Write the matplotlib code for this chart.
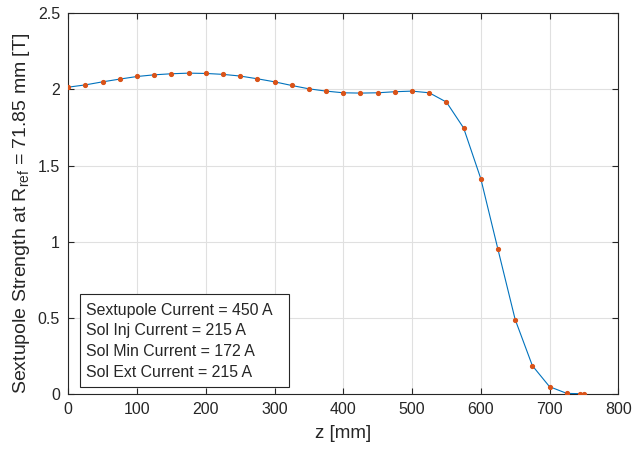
import matplotlib
matplotlib.use("Agg")
import matplotlib.pyplot as plt
from matplotlib.patches import Rectangle

plt.rcParams['font.family'] = ['Liberation Sans', 'DejaVu Sans']
plt.rcParams['mathtext.fontset'] = 'custom'
plt.rcParams['mathtext.rm'] = 'Liberation Sans'
plt.rcParams['mathtext.it'] = 'Liberation Sans:italic'

# Data
z_mm = [0, 25, 50, 75, 100, 125, 150, 175, 200, 225, 250, 275, 300, 325, 350,
        375, 400, 425, 450, 475, 500, 525, 550, 575, 600, 625, 650, 675, 700,
        725, 745, 750]
strength_T = [2.015, 2.030, 2.050, 2.068, 2.085, 2.096, 2.103, 2.107, 2.105,
              2.099, 2.088, 2.070, 2.050, 2.026, 2.004, 1.989, 1.978, 1.976,
              1.978, 1.985, 1.989, 1.978, 1.917, 1.747, 1.414, 0.949, 0.489,
              0.186, 0.048, 0.004, 0.002, 0.002]
xticks = [0, 100, 200, 300, 400, 500, 600, 700, 800]
yticks = [0, 0.5, 1, 1.5, 2, 2.5]
info_lines = ["Sextupole Current = 450 A", "Sol Inj Current = 215 A",
              "Sol Min Current = 172 A", "Sol Ext Current = 215 A"]

W, H = 633, 449
fig = plt.figure(figsize=(W / 100, H / 100), dpi=100)
L, R, T, B = 68.3, 618.3, 13.3, 394.0
ax = fig.add_axes([L / W, 1 - B / H, (R - L) / W, (B - T) / H])

ax.plot(z_mm, strength_T, color='#0072BD', lw=0.8, zorder=3)
ax.plot(z_mm, strength_T, '.', color='#D95319', ms=5.5, zorder=4)

ax.set_xlim(0, 800)
ax.set_ylim(0, 2.5)
ax.set_xticks(xticks)
ax.set_yticks(yticks)
ax.set_xticklabels([str(v) for v in xticks])
ax.set_yticklabels(['0', '0.5', '1', '1.5', '2', '2.5'])
ax.grid(True, color='#e0e0e0', lw=0.8)
ax.set_axisbelow(True)
for s in ax.spines.values():
    s.set_color('#262626')
    s.set_linewidth(0.8)
ax.tick_params(direction='in', length=4, width=0.8, color='#262626',
               top=True, right=True, labelsize=11.5, labelcolor='#262626', pad=6)

ax.set_xlabel('z [mm]', fontsize=13.5, color='#262626')
ax.xaxis.set_label_coords(0.5, -0.082)
ax.set_ylabel(r'Sextupole Strength at $\mathrm{R}_{\mathrm{ref}}$ = 71.85 mm [T]',
              fontsize=14, color='#262626')
ax.yaxis.set_label_coords(-0.066, 0.474)

x0 = (80 - L) / (R - L)
x1 = (289.3 - L) / (R - L)
y0 = (B - 386.7) / (B - T)
y1 = (B - 294.3) / (B - T)
ax.add_patch(Rectangle((x0, y0), x1 - x0, y1 - y0, transform=ax.transAxes,
                       facecolor='white', edgecolor='#262626', lw=0.8, zorder=5))
tx = (86 - L) / (R - L)
for line, yp in zip(info_lines, [310, 331, 351.7, 372.3]):
    ax.text(tx, (B - yp) / (B - T), line, transform=ax.transAxes,
            fontsize=11.4, va='center', ha='left', color='#262626', zorder=6)

fig.savefig('out.png', dpi=100)
